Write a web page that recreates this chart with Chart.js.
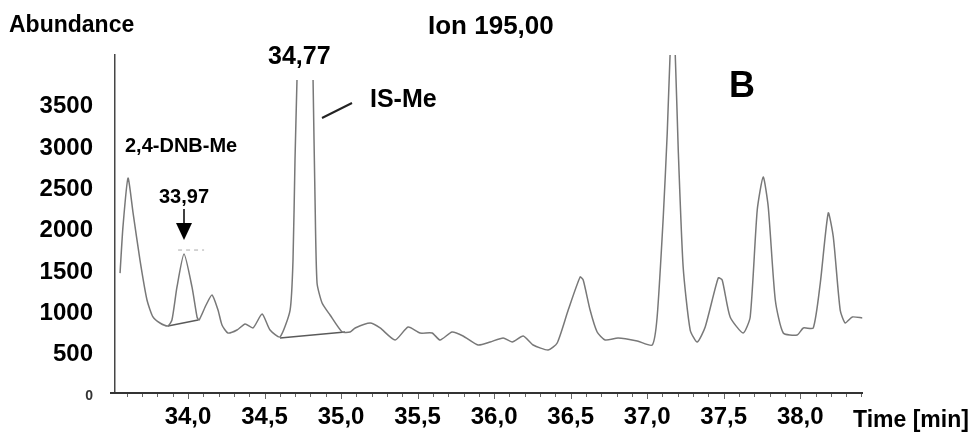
<!DOCTYPE html>
<html>
<head>
<meta charset="utf-8">
<script src="https://cdn.jsdelivr.net/npm/chart.js@4/dist/chart.umd.min.js"></script>
<style>
    html, body { margin: 0; padding: 0; background: #fff; }
    #wrap { width: 973px; height: 432px; }
</style>
</head>
<body>
<div id="wrap"><canvas id="chromatogram"></canvas></div>
<script>
// retention time [min] and abundance (null = peak off scale)
const times = [
    33.556, 33.575, 33.608, 33.641, 33.686, 33.732, 33.771, 33.817, 33.869, 33.895,
    33.928, 33.974, 34.026, 34.059, 34.072, 34.118, 34.157, 34.196, 34.222, 34.261,
    34.320, 34.373, 34.425, 34.484, 34.536, 34.601, 34.667, 34.686, 34.699, 34.712,
    34.765, 34.817, 34.830, 34.843, 34.876, 34.928, 35.007, 35.059, 35.092, 35.190,
    35.255, 35.353, 35.438, 35.516, 35.595, 35.647, 35.725, 35.797, 35.895, 35.974,
    36.059, 36.118, 36.190, 36.255, 36.353, 36.412, 36.484, 36.562, 36.582, 36.627,
    36.673, 36.725, 36.810, 36.935, 37.033, 37.065, 37.105, 37.131, 37.150, 37.167,
    37.183, 37.203, 37.235, 37.281, 37.327, 37.379, 37.464, 37.490, 37.542, 37.627,
    37.673, 37.719, 37.758, 37.791, 37.837, 37.889, 37.980, 38.020, 38.085, 38.131,
    38.183, 38.216, 38.261, 38.294, 38.340, 38.405,
];
const abundance = [
    1450, 2010, 2600, 2180, 1610, 1125, 920, 847, 811, 883,
    1283, 1682, 1283, 920, 883, 1065, 1186, 1004, 823, 726,
    762, 835, 787, 956, 762, 678, 1004, 1609, 2819, 3787,
    null, 3787, 2335, 1331, 1089, 944, 738, 738, 787, 847,
    787, 641, 799, 726, 726, 641, 738, 690, 581, 617,
    666, 617, 690, 581, 520, 605, 1004, 1404, 1367, 1004,
    738, 641, 666, 629, 581, 920, 2130, 3146, 4114, 4600,
    4114, 2940, 1525, 762, 617, 799, 1392, 1367, 920, 726,
    920, 2214, 2614, 2251, 1125, 726, 702, 787, 787, 1331,
    2178, 1888, 1004, 847, 920, 908,
];

// integration baselines under the two labelled peaks
const dnbBaseTimes = [33.869, 34.066];
const dnbBaseValues = [811, 883];
const isBaseTimes = [34.601, 35.026];
const isBaseValues = [666, 738];
// small dashed mark above the 33,97 peak
const markTimes = [33.935, 34.105];
const markValues = [1730, 1730];

const yTickValues = [0, 500, 1000, 1500, 2000, 2500, 3000, 3500];
const xTickLabels = ["34,0", "34,5", "35,0", "35,5", "36,0", "36,5", "37,0", "37,5", "38,0"];

const FONT = "'Liberation Sans', Arial, sans-serif";
const traceColor = "rgb(120,120,120)";

function toPoints(xs, ys) {
    return xs.map((x, i) => ({ x: x, y: ys[i] }));
}

function formatTime(v) {
    const label = v.toFixed(1).replace(".", ",");
    return xTickLabels.includes(label) ? label : "";
}

const annotations = {
    id: "annotations",
    afterDraw(chart) {
        const ctx = chart.ctx;
        const area = chart.chartArea;
        const xScale = chart.scales.x;
        ctx.save();
        ctx.setLineDash([]);
        ctx.fillStyle = "#000";
        ctx.textBaseline = "alphabetic";
        ctx.textAlign = "left";

        ctx.font = `bold 23px ${FONT}`;
        ctx.fillText("Abundance", 9, 32);
        ctx.font = `bold 26px ${FONT}`;
        ctx.fillText("Ion 195,00", 428, 34);
        ctx.font = `bold 25px ${FONT}`;
        ctx.fillText("34,77", 268, 64);
        ctx.fillText("IS-Me", 370, 107);
        ctx.font = `bold 20px ${FONT}`;
        ctx.fillText("2,4-DNB-Me", 125, 152);
        ctx.fillText("33,97", 159, 203);
        ctx.font = `bold 36px ${FONT}`;
        ctx.fillText("B", 729, 97);
        ctx.font = `bold 23px ${FONT}`;
        ctx.fillText("Time [min]", 853, 427);

        // arrow down to the 33,97 peak
        ctx.strokeStyle = "#000";
        ctx.lineWidth = 1.5;
        ctx.beginPath();
        ctx.moveTo(184, 209);
        ctx.lineTo(184, 224);
        ctx.stroke();
        ctx.beginPath();
        ctx.moveTo(176, 223);
        ctx.lineTo(192, 223);
        ctx.lineTo(184, 240);
        ctx.closePath();
        ctx.fill();

        // leader line to IS-Me
        ctx.strokeStyle = "#222";
        ctx.lineWidth = 2;
        ctx.beginPath();
        ctx.moveTo(322, 118);
        ctx.lineTo(352, 103);
        ctx.stroke();

        // time axis line with small tick marks
        const axisY = Math.round(area.bottom);
        ctx.fillStyle = "#333";
        ctx.fillRect(Math.round(area.left) - 5, axisY - 1, Math.round(area.right - area.left) + 5, 2);
        ctx.fillStyle = "#666";
        xScale.ticks.forEach((tick) => {
            const px = Math.round(xScale.getPixelForValue(tick.value));
            const len = tick.label ? 5 : 3;
            ctx.fillRect(px, axisY + 1, 1, len);
        });
        ctx.restore();
    },
};

new Chart(document.getElementById("chromatogram"), {
    type: "line",
    data: {
        datasets: [
            {
                data: toPoints(times, abundance),
                borderColor: traceColor,
                borderWidth: 1.5,
                tension: 0.2,
                spanGaps: false,
            },
            {
                data: toPoints(dnbBaseTimes, dnbBaseValues),
                borderColor: "rgb(90,90,90)",
                borderWidth: 1.4,
            },
            {
                data: toPoints(isBaseTimes, isBaseValues),
                borderColor: "rgb(90,90,90)",
                borderWidth: 1.4,
            },
            {
                data: toPoints(markTimes, markValues),
                borderColor: "rgb(170,170,170)",
                borderWidth: 1,
                borderDash: [4, 4],
            },
        ],
    },
    options: {
        responsive: true,
        maintainAspectRatio: false,
        animation: false,
        elements: { point: { radius: 0 } },
        layout: { padding: { top: 55, right: 110, left: 0, bottom: 0 } },
        plugins: {
            legend: { display: false },
            tooltip: { enabled: false },
        },
        scales: {
            x: {
                type: "linear",
                min: 33.523,
                max: 38.41,
                border: { display: false },
                grid: { display: false, drawTicks: false },
                ticks: {
                    stepSize: 0.1,
                    includeBounds: false,
                    autoSkip: false,
                    maxRotation: 0,
                    padding: 10,
                    color: "#000",
                    font: { family: FONT, size: 24, weight: "bold" },
                    callback: (v) => formatTime(v),
                },
                afterFit: (scale) => {
                    scale.height = 39;
                },
            },
            y: {
                type: "linear",
                min: 0,
                max: 4090,
                border: { color: "rgb(70,70,70)", width: 1.5, dash: [2, 2] },
                grid: { display: false, drawTicks: false },
                afterBuildTicks: (scale) => {
                    scale.ticks = yTickValues.map((v) => ({ value: v }));
                },
                ticks: {
                    padding: 22,
                    labelOffset: 3,
                    callback: (v) => String(v),
                    color: (ctx) => (ctx.tick && ctx.tick.value === 0 ? "#333" : "#000"),
                    font: (ctx) =>
                        ctx.tick && ctx.tick.value === 0
                            ? { family: FONT, size: 14, weight: "bold" }
                            : { family: FONT, size: 24, weight: "bold" },
                },
                afterFit: (scale) => {
                    scale.width = 115;
                },
            },
        },
    },
    plugins: [annotations],
});
</script>
</body>
</html>
